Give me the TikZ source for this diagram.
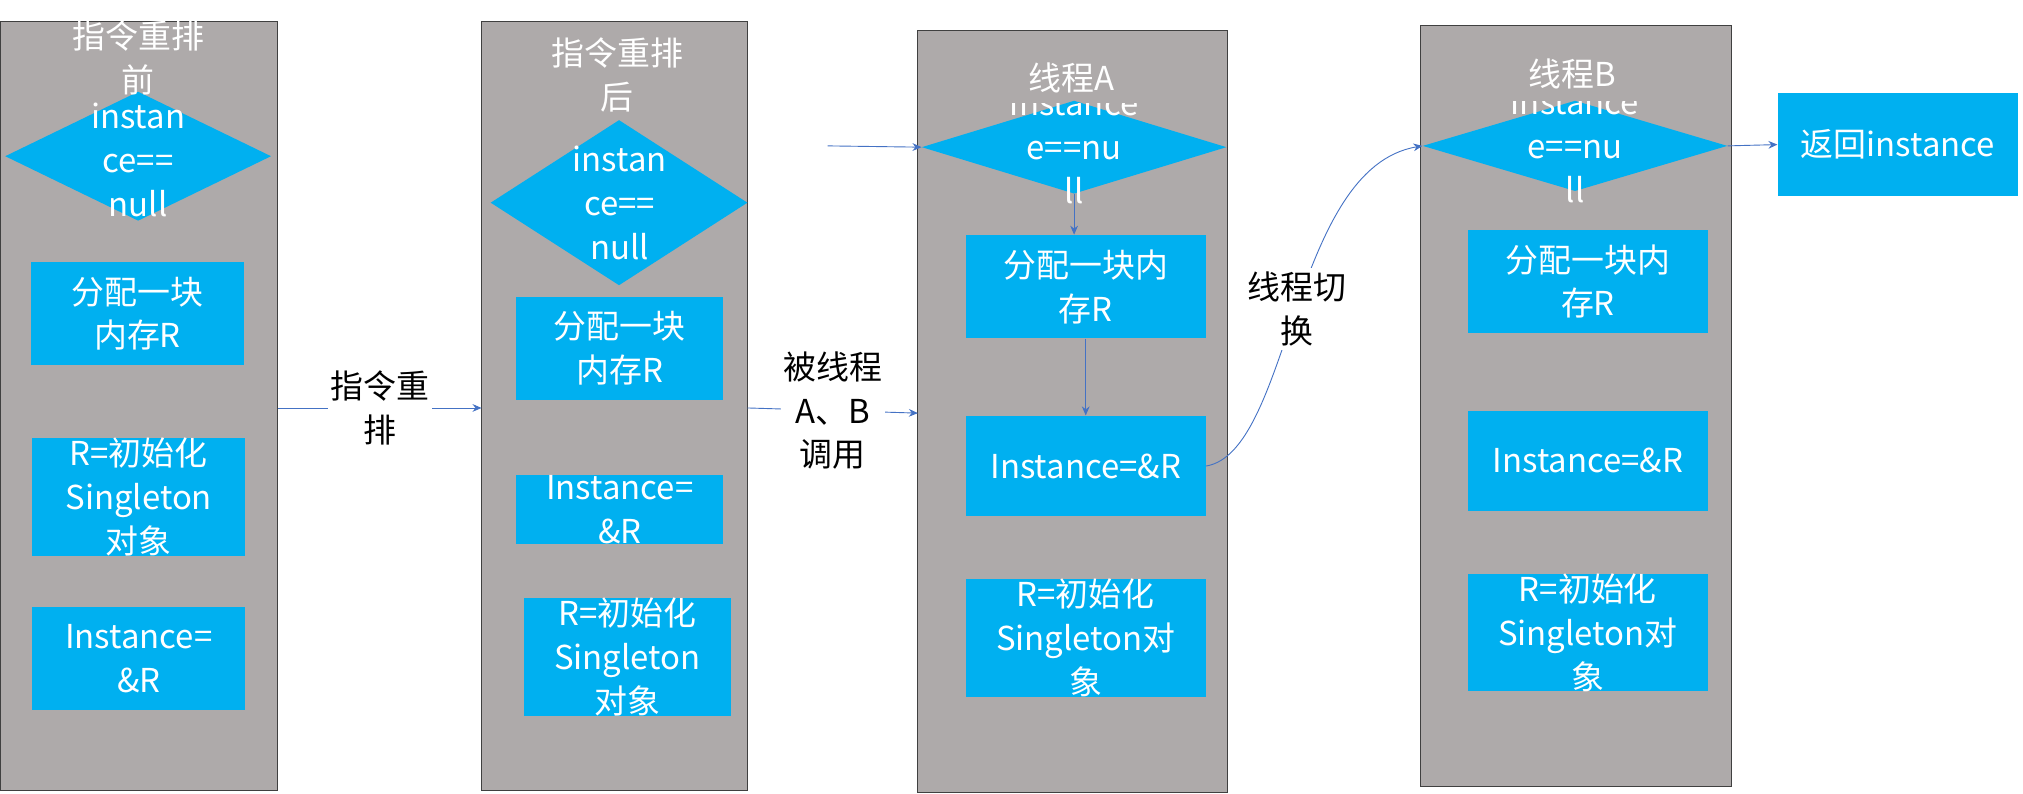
\documentclass[tikz,border=0pt]{standalone}
\usepackage{fontspec}
\setmainfont{Noto Sans CJK SC}
\usetikzlibrary{shapes.geometric,arrows.meta}
\definecolor{colg}{HTML}{AEAAAA}
\definecolor{blu}{HTML}{00B0F0}
\definecolor{arr}{HTML}{4472C4}
\begin{document}
\begin{tikzpicture}[x=1pt,y=-1pt,
 col/.style={draw=black!75,fill=colg,line width=0.8pt},
 box/.style={fill=blu,inner sep=0,minimum width=#1},
 dia/.style={diamond,fill=blu,inner sep=0},
 txt/.style={text=white,align=center,font=\fontsize{25.5}{34}\selectfont},
 lab/.style={text=black,align=center,font=\fontsize{25.5}{34}\selectfont},
 con/.style={draw=arr,line width=0.7pt,-{Stealth[length=7pt,width=6pt]}}]
\useasboundingbox (0,0) rectangle (1567,615);
% columns
\draw[col] (0,17) rectangle (215,612); \coordinate (c1) at (215,316);
\draw[col] (373,17) rectangle (579,612); \coordinate (c2l) at (373,316); \coordinate (c2r) at (579,316);
\draw[col] (711,24) rectangle (951,614); \coordinate (c3l) at (711,320);
\draw[col] (1100,20) rectangle (1341,609);
% column 1
\node[dia,minimum width=206pt,minimum height=100pt] (d1) at (107,121) {};
\node[txt] (d1t) at (107,124) {instan\\ce==\\null};
\node[txt] (t1) at (107,45) {指令重排\\前};
\node[box=165pt,minimum height=80pt,txt] (a1) at (106.5,243) {分配一块\\内存R};
\node[box=165pt,minimum height=80pt,txt] (a2) at (107.5,385) {R=初始化\\Singleton\\对象};
\node[box=165pt,minimum height=80pt,txt] (a3) at (107.5,510) {Instance=\\\&R};
% column 2
\node[dia,minimum width=199pt,minimum height=128pt] (d2) at (479.5,157) {};
\node[txt] (d2t) at (480,157) {instan\\ce==\\null};
\node[txt] (t2) at (478,58) {指令重排\\后};
\node[box=160pt,minimum height=80pt,txt] (b1) at (480,270) {分配一块\\内存R};
\node[box=160pt,minimum height=47pt,txt] (b2) at (480,394.5) {Instance=\\\&R};
\node[box=160pt,minimum height=80pt,txt] (b3) at (486,509) {R=初始化\\Singleton\\对象};
% column 3
\node[dia,minimum width=236pt,minimum height=72pt] (d3) at (832,114) {};
\begin{scope}
\clip (700,80) rectangle (960,170);
\node[txt] (d3t) at (832,114) {instance\\e==nu\\ll};
\end{scope}
\node[txt] (t3) at (830,60) {线程A};
\node[box=186pt,minimum height=80pt,txt] (e1) at (841,222) {分配一块内\\存R};
\node[box=186pt,minimum height=78pt,txt] (e2) at (841,361) {Instance=\&R};
\node[box=186pt,minimum height=78pt,txt] (e3) at (841,494) {R=初始化\\Singleton对\\象};
% column 4
\node[dia,minimum width=236pt,minimum height=70pt] (d4) at (1220,113) {};
\begin{scope}
\clip (1090,79) rectangle (1350,170);
\node[txt] (d4t) at (1220,113) {instance\\e==nu\\ll};
\end{scope}
\node[txt] (t4) at (1218,57) {线程B};
\node[box=186pt,minimum height=80pt,txt] (f1) at (1230,218) {分配一块内\\存R};
\node[box=186pt,minimum height=78pt,txt] (f2) at (1230,357) {Instance=\&R};
\node[box=186pt,minimum height=78pt,txt] (f3) at (1230,490) {R=初始化\\Singleton对\\象};
\node[box=186pt,minimum height=80pt,txt] (g) at (1470,112) {返回instance};
% connectors
\draw[con] (c1) -- node[lab,fill=white,inner sep=2pt] (l1) {指令重\\排} (c2l);
\draw[con] (c2r) -- node[lab,fill=white,inner sep=2pt] (l2) {被线程\\A、B\\调用} (c3l);
\coordinate (s3) at (641,113);
\draw[con] (s3) -- (d3.west);
\draw[con] (d3.south) -- (e1.north-|d3.south);
\draw[con] (e1.south) -- (e2.north);
\draw[con] (d4.east) -- (g.west);
\draw[con] (e2.east) .. controls (1000,350) and (1000,130) .. node[pos=0.5,lab,fill=white,inner sep=3pt] (l3) {线程切\\换} (d4.west);
\end{tikzpicture}
\end{document}
